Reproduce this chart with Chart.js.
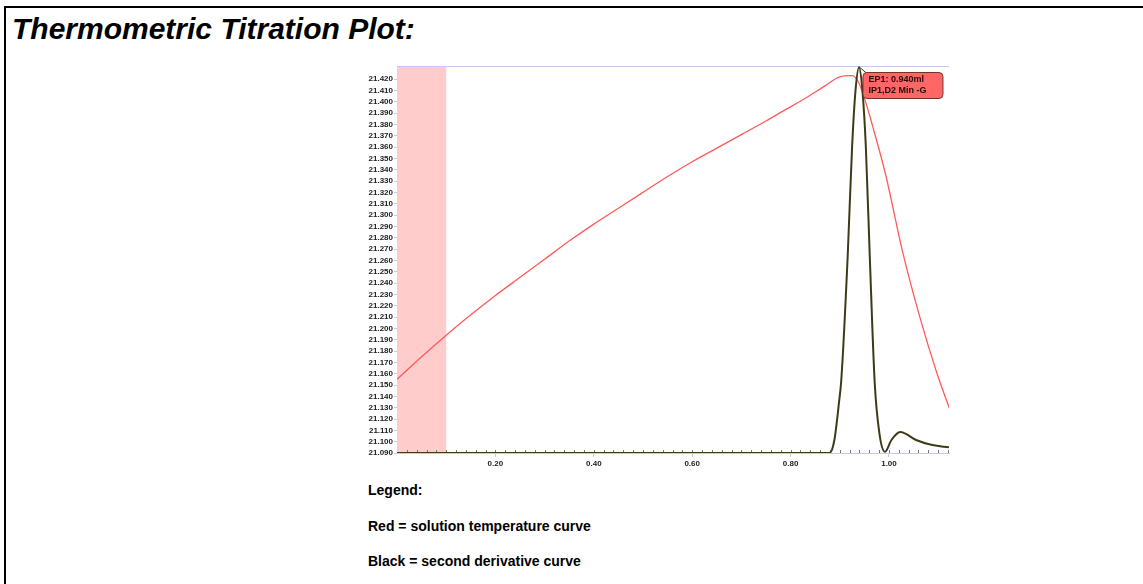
<!DOCTYPE html>
<html>
<head>
<meta charset="utf-8">
<script src="https://cdn.jsdelivr.net/npm/chart.js@4"></script>
<style>
  body { margin: 0; background: #fff; width: 1143px; height: 584px; overflow: hidden; position: relative; font-family: "Liberation Sans", Arial, sans-serif; }
  #frame { position: absolute; left: 4px; top: 6px; width: 1200px; height: 600px; border-top: 2px solid #000; border-left: 2px solid #000; }
  #title { position: absolute; left: 12px; top: 12px; font-size: 30px; font-weight: bold; font-style: italic; color: #000; white-space: nowrap; }
  .leg { position: absolute; left: 368px; font-size: 14px; font-weight: bold; color: #000; white-space: nowrap; }
  #wrap { position: absolute; left: 340px; top: 56px; width: 620px; height: 420px; }
</style>
</head>
<body>
<div id="frame"></div>
<div id="title">Thermometric Titration Plot:</div>
<div id="wrap"><canvas id="plot" width="620" height="420"></canvas></div>
<div class="leg" style="top:482px">Legend:</div>
<div class="leg" style="top:518px">Red = solution temperature curve</div>
<div class="leg" style="top:553px">Black = second derivative curve</div>
<script>
// temperature curve (red)
const redX = [0, 0.05, 0.10, 0.15, 0.20, 0.25, 0.30, 0.35, 0.40, 0.45, 0.50, 0.55, 0.60, 0.65, 0.70, 0.75, 0.79, 0.83, 0.87, 0.90, 0.925, 0.937, 0.948, 0.967, 0.993, 1.028, 1.062, 1.097, 1.124];
const redY = [21.155, 21.175, 21.194, 21.212, 21.229, 21.245, 21.261, 21.277, 21.292, 21.306, 21.320, 21.334, 21.347, 21.359, 21.371, 21.383, 21.393, 21.403, 21.414, 21.422, 21.423, 21.418, 21.406, 21.378, 21.336, 21.267, 21.211, 21.161, 21.128];

// second derivative (black)
const blackX = [0, 0.879, 0.889, 0.899, 0.903, 0.916, 0.925, 0.932, 0.939, 0.946, 0.953, 0.961, 0.971, 0.981, 0.992, 1.005, 1.023, 1.055, 1.088, 1.122];
const blackY = [21.090, 21.090, 21.1015, 21.137, 21.154, 21.263, 21.36, 21.41, 21.4305, 21.41, 21.36, 21.263, 21.152, 21.106, 21.091, 21.1015, 21.1085, 21.1015, 21.097, 21.095];

const yTicks = [21.090, 21.100, 21.110, 21.120, 21.130, 21.140, 21.150, 21.160, 21.170, 21.180, 21.190, 21.200, 21.210, 21.220, 21.230, 21.240, 21.250, 21.260, 21.270, 21.280, 21.290, 21.300, 21.310, 21.320, 21.330, 21.340, 21.350, 21.360, 21.370, 21.380, 21.390, 21.400, 21.410, 21.420];
const xTicks = [0.20, 0.40, 0.60, 0.80, 1.00];
const xTickLabels = ["0.20", "0.40", "0.60", "0.80", "1.00"];

const bandRange = [0, 0.10];
const endPoint = 0.940;
const noteLines = ["EP1: 0.940ml", "IP1,D2 Min -G"];

const axisBlue = "#c8c8f0";

// pink band, top line, minor ticks, EP label
const extras = {
  id: "extras",
  beforeDatasetsDraw(chart) {
    const { ctx, chartArea: a, scales: { x } } = chart;
    ctx.save();
    ctx.fillStyle = "#ffcccc";
    const x0 = x.getPixelForValue(bandRange[0]), x1 = x.getPixelForValue(bandRange[1]);
    ctx.fillRect(x0, a.top, x1 - x0, a.bottom - a.top);
    ctx.strokeStyle = axisBlue;
    ctx.lineWidth = 1;
    ctx.beginPath();
    ctx.moveTo(a.left, a.top + 0.5);
    ctx.lineTo(a.right, a.top + 0.5);
    ctx.stroke();
    ctx.strokeStyle = "#777";
    ctx.beginPath();
    for (let v = 0.02; v < x.max; v += 0.02) {
      const px = Math.round(x.getPixelForValue(v)) + 0.5;
      ctx.moveTo(px, a.bottom);
      ctx.lineTo(px, a.bottom - 3);
    }
    ctx.stroke();
    ctx.restore();
  },
  afterDatasetsDraw(chart) {
    const { ctx, chartArea: a, scales: { x, y } } = chart;
    const px = x.getPixelForValue(endPoint);
    const py = y.getPixelForValue(Math.max(...blackY));
    const bx = px + 3, by = a.top + 6, bw = 80, bh = 26;
    ctx.save();
    ctx.strokeStyle = "#333";
    ctx.lineWidth = 1;
    ctx.beginPath();
    ctx.moveTo(px, py);
    ctx.lineTo(bx + 5, by + 2);
    ctx.stroke();
    ctx.fillStyle = "#ff6666";
    ctx.strokeStyle = "#7a3030";
    ctx.beginPath();
    ctx.roundRect(bx + 0.5, by + 0.5, bw, bh, 4);
    ctx.fill();
    ctx.stroke();
    ctx.fillStyle = "#2a0a0a";
    ctx.font = "bold 9px 'Liberation Sans', Arial";
    ctx.textBaseline = "middle";
    ctx.fillText(noteLines[0], bx + 6, by + 8);
    ctx.fillText(noteLines[1], bx + 6, by + 19);
    ctx.restore();
  }
};

new Chart(document.getElementById("plot"), {
  type: "line",
  data: {
    datasets: [
      {
        label: "Black",
        data: blackX.map((v, i) => ({ x: v, y: blackY[i] })),
        borderColor: "#3d3b16",
        borderWidth: 2,
        pointRadius: 0,
        cubicInterpolationMode: "monotone",
      },
      {
        label: "Red",
        data: redX.map((v, i) => ({ x: v, y: redY[i] })),
        borderColor: "#ff5a5a",
        borderWidth: 1.3,
        pointRadius: 0,
        cubicInterpolationMode: "monotone",
      },
    ],
  },
  options: {
    responsive: false,
    animation: false,
    devicePixelRatio: 1,
    layout: { padding: { top: 10, right: 11, left: 0, bottom: 0 } },
    plugins: { legend: { display: false }, tooltip: { enabled: false } },
    scales: {
      x: {
        type: "linear",
        min: 0,
        max: 1.122,
        afterBuildTicks: (s) => { s.ticks = xTicks.map((v) => ({ value: v })); },
        afterFit: (s) => { s.height = 23; },
        ticks: {
          autoSkip: false,
          maxRotation: 0,
          padding: 2,
          color: "#222",
          font: { family: "'Liberation Sans', Arial", size: 8, weight: "bold" },
          callback: (v) => xTickLabels[xTicks.indexOf(v)],
        },
        grid: { drawOnChartArea: false, tickLength: 4, color: axisBlue },
        border: { color: axisBlue },
      },
      y: {
        min: 21.090,
        max: 21.4315,
        afterBuildTicks: (s) => { s.ticks = yTicks.map((v) => ({ value: v })); },
        afterFit: (s) => { s.width = 57; },
        ticks: {
          autoSkip: false,
          padding: 1,
          color: "#222",
          font: { family: "'Liberation Sans', Arial", size: 8, weight: "bold" },
          callback: (v) => v.toFixed(3),
        },
        grid: { drawOnChartArea: false, tickLength: 3, color: axisBlue },
        border: { color: axisBlue },
      },
    },
  },
  plugins: [extras],
});
</script>
</body>
</html>
